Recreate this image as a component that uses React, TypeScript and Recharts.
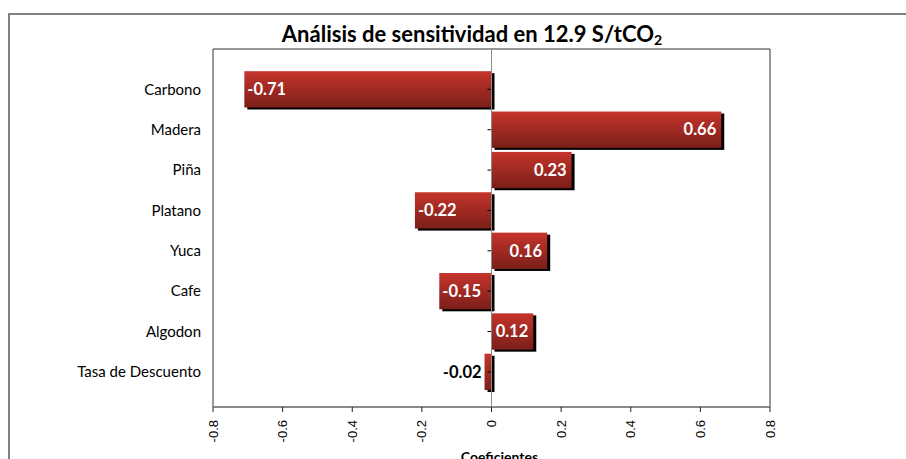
import React from "react";
import {
  BarChart,
  Bar,
  XAxis,
  YAxis,
  ReferenceLine,
  ReferenceArea,
  LabelList,
} from "recharts";

const categories = [
  "Carbono",
  "Madera",
  "Piña",
  "Platano",
  "Yuca",
  "Cafe",
  "Algodon",
  "Tasa de Descuento",
];
const coefficients = [-0.71, 0.66, 0.23, -0.22, 0.16, -0.15, 0.12, -0.02];
const xTicks = [-0.8, -0.6, -0.4, -0.2, 0, 0.2, 0.4, 0.6, 0.8];
const yTicks = [1, 2, 3, 4, 5, 6, 7, 8];

const data = categories.map((name, i) => ({
  pos: i + 1,
  name,
  value: coefficients[i],
}));

const LABEL_FONT = "Lato, 'Open Sans', sans-serif";

// bar with a drop shadow and a small tick on the zero line
const ShadowBar = (props: any) => {
  const { x, y, width, height, value } = props;
  const left = Math.min(x, x + width);
  const w = Math.abs(width);
  const zeroX = value < 0 ? left + w : left;
  return (
    <g>
      <rect x={left + 3} y={y + 2} width={w} height={height} fill="#000" />
      <rect x={left} y={y} width={w} height={height} fill="url(#barGrad)" />
      <line
        x1={zeroX - 4}
        x2={zeroX}
        y1={y + height / 2}
        y2={y + height / 2}
        stroke="#000"
        strokeWidth={1}
      />
    </g>
  );
};

const renderValue = (props: any) => {
  const { x, y, width, height, value } = props;
  const left = Math.min(x, x + width);
  const w = Math.abs(width);
  const cy = y + height / 2;
  const txt = value.toFixed(2);
  if (w < 20) {
    return (
      <text
        x={left - 3}
        y={cy}
        dy="0.35em"
        textAnchor="end"
        fill="#000"
        fontFamily={LABEL_FONT}
        fontWeight={700}
        fontSize={16.5}
      >
        {txt}
      </text>
    );
  }
  return (
    <text
      x={value < 0 ? left + 3 : left + w - 5}
      y={cy}
      dy="0.35em"
      textAnchor={value < 0 ? "start" : "end"}
      fill="#fff"
      fontFamily={LABEL_FONT}
      fontWeight={700}
      fontSize={16.5}
    >
      {txt}
    </text>
  );
};

const XTick = (props: any) => {
  const { x, y, payload } = props;
  const ty = y + 6;
  return (
    <text
      x={x}
      y={ty}
      dy="0.35em"
      textAnchor="end"
      transform={`rotate(-90, ${x}, ${ty})`}
      fill="#000"
      fontFamily="'Liberation Sans', Arial, sans-serif"
      fontSize={13}
    >
      {payload.value === 0 ? "0" : String(payload.value)}
    </text>
  );
};

export default function App() {
  return (
    <div
      style={{
        position: "absolute",
        left: 0,
        top: 0,
        width: 906,
        height: 459,
        overflow: "hidden",
        background: "#fff",
      }}
    >
      <div
        style={{
          position: "absolute",
          left: 8,
          top: 13,
          width: 1000,
          height: 1000,
          border: "2px solid #808080",
        }}
      />
      <div
        style={{
          position: "absolute",
          left: 0,
          top: 20,
          width: 944,
          textAlign: "center",
          fontFamily: LABEL_FONT,
          fontWeight: 700,
          fontSize: 22,
          color: "#000",
        }}
      >
        Análisis de sensitividad en 12.9 S/tCO
        <sub style={{ fontSize: 14, verticalAlign: "-3px" }}>2</sub>
      </div>
      <div style={{ position: "absolute", left: 0, top: 0 }}>
        <BarChart
          width={906}
          height={459}
          data={data}
          layout="vertical"
          margin={{ top: 49, right: 136, bottom: 0, left: 0 }}
        >
          <defs>
            <linearGradient id="barGrad" x1="0" y1="0" x2="0" y2="1">
              <stop offset="0%" stopColor="#c5342b" />
              <stop offset="100%" stopColor="#7a1f19" />
            </linearGradient>
          </defs>
          <ReferenceArea
            x1={-0.8}
            x2={0.8}
            y1={0}
            y2={8.87}
            fill="none"
            stroke="#333"
            strokeWidth={1}
          />
          <ReferenceLine x={0} stroke="#8a8a8a" strokeWidth={1} />
          <XAxis
            type="number"
            dataKey="value"
            domain={[-0.8, 0.8]}
            ticks={xTicks}
            allowDataOverflow
            height={52}
            axisLine={{ stroke: "#8a8a8a", strokeWidth: 2 }}
            tickLine={{ stroke: "#222" }}
            tickSize={5}
            tick={<XTick />}
            label={(p: any) => {
              const vb = p.viewBox;
              return (
                <text
                  x={vb.x + vb.width / 2 + 8}
                  y={462}
                  textAnchor="middle"
                  fontFamily={LABEL_FONT}
                  fontWeight={700}
                  fontSize={14}
                  fill="#000"
                >
                  Coeficientes
                </text>
              );
            }}
          />
          <YAxis
            type="number"
            dataKey="pos"
            domain={[0, 8.87]}
            ticks={yTicks}
            allowDataOverflow
            width={213}
            axisLine={false}
            tickLine={false}
            tickSize={0}
            tickMargin={12}
            tickFormatter={(v: number) => categories[v - 1] ?? ""}
            tick={{ fill: "#000", fontFamily: LABEL_FONT, fontSize: 15 }}
          />
          <Bar
            dataKey="value"
            barSize={41}
            shape={<ShadowBar />}
            isAnimationActive={false}
          >
            <LabelList dataKey="value" content={renderValue} />
          </Bar>
        </BarChart>
      </div>
    </div>
  );
}
